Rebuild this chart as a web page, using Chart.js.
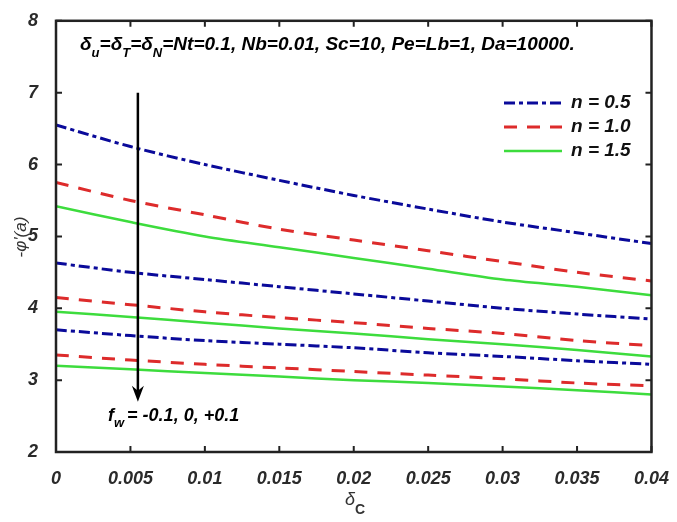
<!DOCTYPE html>
<html>
<head>
<meta charset="utf-8">
<script src="https://cdn.jsdelivr.net/npm/chart.js@4"></script>
<style>
  html, body { margin: 0; padding: 0; background: #fff; }
  #wrap { width: 677px; height: 522px; }
</style>
</head>
<body>
<div id="wrap"><canvas id="chart" width="677" height="522"></canvas></div>
<script>
// delta_C values along the x axis
const deltaC = [0, 0.005, 0.01, 0.015, 0.02, 0.025, 0.03, 0.035, 0.04];

// -phi'(a), one array per curve (fw = -0.1, 0, +0.1 from top to bottom)
const n05_fwm = [6.55, 6.25, 6.00, 5.78, 5.57, 5.38, 5.20, 5.05, 4.90];
const n10_fwm = [5.75, 5.50, 5.30, 5.10, 4.95, 4.80, 4.65, 4.50, 4.38];
const n15_fwm = [5.42, 5.20, 5.00, 4.85, 4.70, 4.55, 4.40, 4.30, 4.18];

const n05_fw0 = [4.63, 4.50, 4.40, 4.30, 4.20, 4.10, 4.00, 3.92, 3.85];
const n10_fw0 = [4.15, 4.05, 3.95, 3.87, 3.80, 3.72, 3.65, 3.55, 3.48];
const n15_fw0 = [3.95, 3.88, 3.80, 3.72, 3.65, 3.57, 3.50, 3.42, 3.33];

const n05_fwp = [3.70, 3.62, 3.55, 3.50, 3.45, 3.38, 3.33, 3.27, 3.22];
const n10_fwp = [3.35, 3.28, 3.22, 3.17, 3.12, 3.07, 3.02, 2.96, 2.92];
const n15_fwp = [3.20, 3.15, 3.10, 3.05, 3.00, 2.96, 2.91, 2.86, 2.80];

const legendLabels = ['n = 0.5', 'n = 1.0', 'n = 1.5'];
const yTicks = [2, 3, 4, 5, 6, 7, 8];

const BLUE = '#0a0a9a';
const RED = '#dd2b2b';
const GREEN = '#3ddc3d';
const FONT = '"Liberation Sans", Arial, sans-serif';

const styles = [
    { color: BLUE, dash: [11, 4, 4, 4], width: 3 },
    { color: RED, dash: [13, 10], width: 3 },
    { color: GREEN, dash: [], width: 2.5 }
];

function toPoints(arr) {
    return arr.map((v, i) => ({ x: deltaC[i], y: v }));
}

const groups = [
    [n05_fwm, n10_fwm, n15_fwm],
    [n05_fw0, n10_fw0, n15_fw0],
    [n05_fwp, n10_fwp, n15_fwp]
];

const datasets = [];
groups.forEach(g => {
    g.forEach((arr, k) => {
        datasets.push({
            label: legendLabels[k],
            data: toPoints(arr),
            borderColor: styles[k].color,
            borderDash: styles[k].dash,
            borderWidth: styles[k].width,
            pointRadius: 0,
            fill: false,
            tension: 0.3
        });
    });
});

// frame, inward ticks, arrow, texts and legend
const decorations = {
    id: 'decorations',
    afterDraw(chart) {
        const { ctx, chartArea: a, scales } = chart;
        const xs = scales.x, ys = scales.y;
        ctx.save();

        // frame
        ctx.strokeStyle = '#222';
        ctx.lineWidth = 2.5;
        ctx.strokeRect(a.left, a.top, a.right - a.left, a.bottom - a.top);

        // inward ticks on all four sides
        ctx.lineWidth = 2;
        deltaC.forEach(v => {
            const px = xs.getPixelForValue(v);
            ctx.beginPath();
            ctx.moveTo(px, a.bottom); ctx.lineTo(px, a.bottom - 6);
            ctx.moveTo(px, a.top); ctx.lineTo(px, a.top + 6);
            ctx.stroke();
        });
        yTicks.forEach(v => {
            const py = ys.getPixelForValue(v);
            ctx.beginPath();
            ctx.moveTo(a.left, py); ctx.lineTo(a.left + 6, py);
            ctx.moveTo(a.right, py); ctx.lineTo(a.right - 6, py);
            ctx.stroke();
        });

        // arrow
        const ax = xs.getPixelForValue(0.0055);
        const ay0 = ys.getPixelForValue(7.0);
        const ay1 = ys.getPixelForValue(2.7);
        ctx.strokeStyle = '#000';
        ctx.fillStyle = '#000';
        ctx.lineWidth = 2.5;
        ctx.beginPath();
        ctx.moveTo(ax, ay0); ctx.lineTo(ax, ay1 - 10);
        ctx.stroke();
        ctx.beginPath();
        ctx.moveTo(ax, ay1);
        ctx.lineTo(ax - 6, ay1 - 16);
        ctx.lineTo(ax, ay1 - 11);
        ctx.lineTo(ax + 6, ay1 - 16);
        ctx.closePath();
        ctx.fill();

        // fw label
        ctx.textBaseline = 'alphabetic';
        ctx.textAlign = 'left';
        let tx = 108, ty = 421;
        ctx.font = 'italic bold 18px ' + FONT;
        ctx.fillText('f', tx, ty);
        tx += ctx.measureText('f').width;
        ctx.font = 'italic bold 13px ' + FONT;
        ctx.fillText('w', tx, ty + 6);
        tx += ctx.measureText('w').width + 3;
        ctx.font = 'italic bold 18px ' + FONT;
        ctx.fillText('= -0.1, 0, +0.1', tx, ty);

        // top annotation
        tx = 80; ty = 50;
        const parts = [
            ['δ', 19, 0], ['u', 13, 7], ['=δ', 19, 0], ['T', 13, 7], ['=δ', 19, 0], ['N', 13, 7],
            ['=Nt=0.1, Nb=0.01, Sc=10, Pe=Lb=1, Da=10000.', 19, 0]
        ];
        parts.forEach(p => {
            ctx.font = 'italic bold ' + p[1] + 'px ' + FONT;
            ctx.fillText(p[0], tx, ty + p[2]);
            tx += ctx.measureText(p[0]).width;
        });

        // legend
        const ly = [103, 127, 151];
        styles.forEach((s, k) => {
            ctx.strokeStyle = s.color;
            ctx.lineWidth = s.width;
            ctx.setLineDash(s.dash);
            ctx.beginPath();
            ctx.moveTo(504, ly[k]); ctx.lineTo(562, ly[k]);
            ctx.stroke();
            ctx.setLineDash([]);
            ctx.fillStyle = '#111';
            ctx.font = 'italic bold 19px ' + FONT;
            ctx.textBaseline = 'middle';
            ctx.fillText(legendLabels[k], 571, ly[k]);
        });

        // axis titles
        ctx.fillStyle = '#333';
        ctx.textBaseline = 'middle';
        ctx.textAlign = 'center';
        ctx.save();
        ctx.translate(21, 237);
        ctx.rotate(-Math.PI / 2);
        ctx.font = 'italic 17px ' + FONT;
        ctx.fillText("-φ'(a)", 0, 0);
        ctx.restore();

        ctx.textAlign = 'left';
        ctx.font = 'italic 18px ' + FONT;
        ctx.fillText('δ', 345, 500);
        ctx.font = 'bold 14px ' + FONT;
        ctx.fillText('C', 355, 510);

        ctx.restore();
    }
};

new Chart(document.getElementById('chart'), {
    type: 'line',
    data: { datasets },
    options: {
        responsive: false,
        animation: false,
        layout: { padding: { left: 10, top: 14, right: 22, bottom: 0 } },
        plugins: {
            legend: { display: false },
            tooltip: { enabled: false }
        },
        scales: {
            x: {
                type: 'linear',
                min: 0,
                max: 0.04,
                grid: { display: false },
                border: { display: false },
                afterFit: s => { s.height = 70; },
                ticks: {
                    stepSize: 0.005,
                    padding: 8,
                    maxRotation: 0,
                    color: '#2a2a2a',
                    font: { family: FONT, size: 18, style: 'italic', weight: 'bold' },
                    callback: v => String(+v.toFixed(3))
                }
            },
            y: {
                min: 2,
                max: 8,
                grid: { display: false },
                border: { display: false },
                afterFit: s => { s.width = 46; },
                ticks: {
                    stepSize: 1,
                    padding: 10,
                    color: '#2a2a2a',
                    font: { family: FONT, size: 18, style: 'italic', weight: 'bold' }
                }
            }
        }
    },
    plugins: [decorations]
});
</script>
</body>
</html>
